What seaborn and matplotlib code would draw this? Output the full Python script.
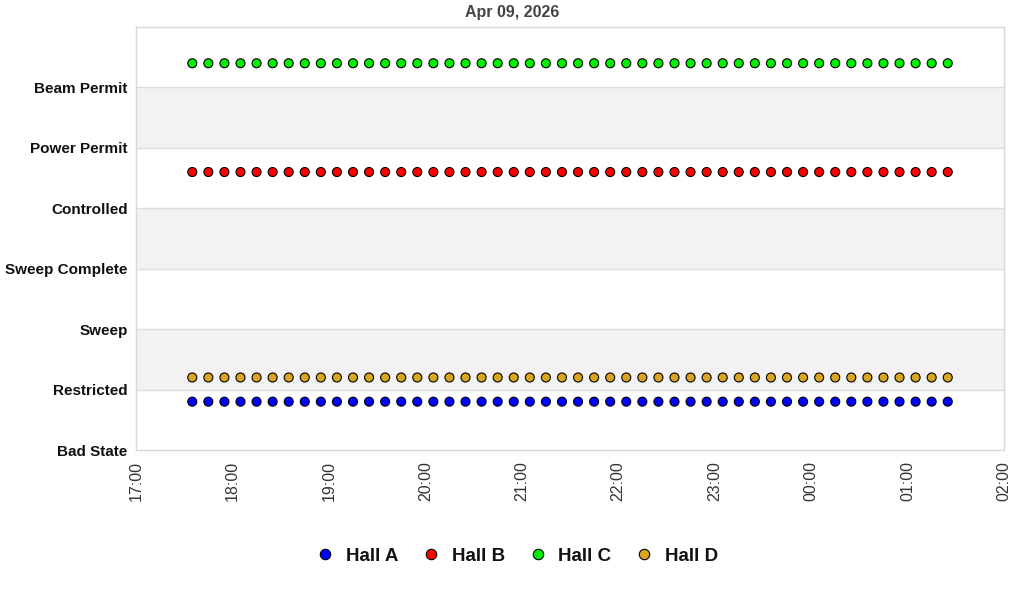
import pandas as pd
import numpy as np
import matplotlib
matplotlib.use("Agg")
import matplotlib.pyplot as plt
import matplotlib.dates as mdates
import seaborn as sns

# --- data
halls = ["Hall A", "Hall B", "Hall C", "Hall D"]
hall_levels = [0.8, 4.6, 6.4, 1.2]
hall_colors = ["#0000ff", "#ff0000", "#00ee00", "#daa520"]
states = ["Bad State", "Restricted", "Sweep", "Sweep Complete",
          "Controlled", "Power Permit", "Beam Permit"]
times = pd.date_range("2026-04-09 17:35", "2026-04-10 01:25", freq="10min")

rows = []
for h, lv in zip(halls, hall_levels):
    for t in times:
        rows.append({"time": t, "state": lv, "hall": h})
df = pd.DataFrame(rows)

sns.set_theme(style="white")
plt.rcParams['font.family'] = ['Liberation Sans', 'DejaVu Sans']

fig = plt.figure(figsize=(10.24, 6), dpi=100)
ax = fig.add_axes([136/1024, 1-450/600, 868/1024, 423/600])

# alternating bands
for y0 in [1, 3, 5]:
    ax.axhspan(y0, y0+1, color="#f2f2f2", zorder=0, lw=0)
for y in range(1, 7):
    ax.axhline(y, color="#dddddd", lw=1, zorder=1)

sns.scatterplot(data=df, x="time", y="state", hue="hall", hue_order=halls,
                palette=hall_colors, s=42, edgecolor="black", linewidth=0.8,
                ax=ax, zorder=3, legend=False)

ax.set_ylim(0, 7)
ax.set_xlim(pd.Timestamp("2026-04-09 17:00"), pd.Timestamp("2026-04-10 02:00"))
ax.set_yticks(range(7))
ax.set_yticklabels(states, fontsize=11, fontweight="bold", color="#111111")
ax.xaxis.set_major_locator(mdates.HourLocator())
ax.xaxis.set_major_formatter(mdates.DateFormatter("%H:%M"))
plt.setp(ax.get_xticklabels(), rotation=90, fontsize=11.5, color="#333333")
ax.tick_params(axis="y", length=0, pad=6)
ax.tick_params(axis="x", length=0, pad=8)
ax.set_xlabel("")
ax.set_ylabel("")
for s in ax.spines.values():
    s.set_color("#d8d8d8")
    s.set_linewidth(1)

fig.text(0.5, 1-12/600, "Apr 09, 2026", ha="center", va="center",
         fontsize=11.5, fontweight="bold", color="#444444")

handles = [plt.Line2D([], [], marker="o", ls="", markersize=7.5,
                      markerfacecolor=c, markeredgecolor="black", markeredgewidth=0.8)
           for c in hall_colors]
fig.legend(handles, halls, loc="center", bbox_to_anchor=(0.505, 1-556/600), ncol=4,
           frameon=False, prop={"weight": "bold", "size": 13.5},
           labelcolor="#111111", handlelength=1.0, handletextpad=0.6,
           columnspacing=1.25)

fig.savefig("out.png", dpi=100)
